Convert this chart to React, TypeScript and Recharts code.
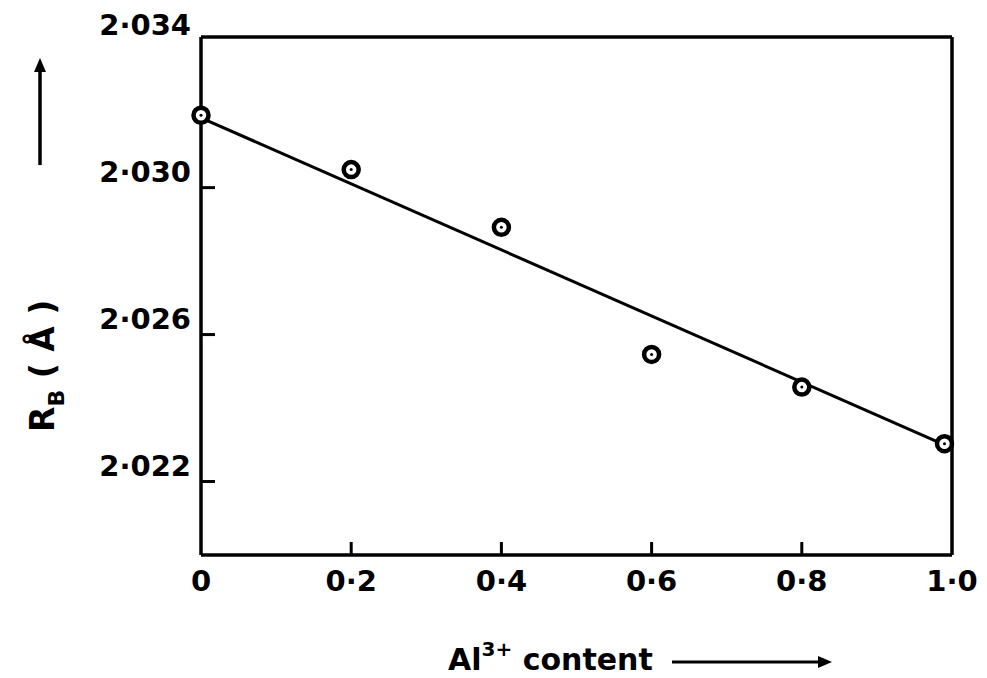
import React from 'react';
import { ComposedChart, Line, Scatter, XAxis, YAxis } from 'recharts';

// Al3+ content (x) and R_B in angstrom (y)
const alContent = [0, 0.2, 0.4, 0.6, 0.8, 0.99];
const rB = [2.03197, 2.03049, 2.02892, 2.02546, 2.02457, 2.02303];

// straight line drawn through the points
const fitX = [0, 0.99];
const fitY = [2.0319, 2.0230];

const xTicks = [0, 0.2, 0.4, 0.6, 0.8, 1.0];
const xTickLabels = ['0', '0·2', '0·4', '0·6', '0·8', '1·0'];
const yTicks = [2.022, 2.026, 2.03, 2.034];
const yTickLabels = ['2·022', '2·026', '2·030', '2·034'];

const points = alContent.map((x, i) => ({ x, y: rB[i] }));
const fitLine = fitX.map((x, i) => ({ x, y: fitY[i] }));

const FONT = '"DejaVu Sans", sans-serif';

const XTick = (props: any) => {
  const { x, y, payload } = props;
  const idx = xTicks.indexOf(payload.value);
  const inner = idx > 0 && idx < xTicks.length - 1;
  return (
    <g>
      {inner && <line x1={x} x2={x} y1={y} y2={y - 13} stroke="#000" strokeWidth={3} />}
      <text x={x} y={y + 36} textAnchor="middle" fontFamily={FONT} fontWeight="bold" fontSize={29} fill="#000">
        {xTickLabels[idx]}
      </text>
    </g>
  );
};

const YTick = (props: any) => {
  const { x, y, payload } = props;
  const idx = yTicks.indexOf(payload.value);
  const top = idx === yTicks.length - 1;
  return (
    <g>
      {!top && <line x1={x} x2={x + 14} y1={y} y2={y} stroke="#000" strokeWidth={3} />}
      <text x={x - 10} y={y - 6} textAnchor="end" fontFamily={FONT} fontWeight="bold" fontSize={29} fill="#000">
        {yTickLabels[idx]}
      </text>
    </g>
  );
};

const RingDot = (props: any) => {
  const { cx, cy } = props;
  if (cx == null || cy == null) return null;
  return (
    <g>
      <circle cx={cx} cy={cy} r={7.5} fill="#fff" stroke="#000" strokeWidth={4.5} />
      <circle cx={cx} cy={cy} r={1.5} fill="#000" />
    </g>
  );
};

export default function App() {
  return (
    <div style={{ position: 'absolute', left: 0, top: 0, width: 987, height: 678, background: '#fff' }}>
      <ComposedChart
        width={987}
        height={678}
        margin={{ top: 36, right: 34, bottom: 23, left: 101 }}
      >
        <XAxis
          dataKey="x"
          type="number"
          domain={[0, 1]}
          ticks={xTicks}
          height={100}
          tickSize={0}
          tickMargin={0}
          tickLine={false}
          tick={<XTick />}
          axisLine={{ stroke: '#000', strokeWidth: 3.5 }}
        />
        <XAxis xAxisId="top" orientation="top" type="number" domain={[0, 1]} height={1} tick={false} tickLine={false}
          axisLine={{ stroke: '#000', strokeWidth: 3.5 }} />
        <YAxis
          dataKey="y"
          type="number"
          domain={[2.02, 2.0341]}
          ticks={yTicks}
          width={100}
          tickSize={0}
          tickMargin={0}
          tickLine={false}
          tick={<YTick />}
          axisLine={{ stroke: '#000', strokeWidth: 3.5 }}
        />
        <YAxis yAxisId="right" orientation="right" type="number" domain={[2.02, 2.0341]} width={1} tick={false} tickLine={false}
          axisLine={{ stroke: '#000', strokeWidth: 3.5 }} />
        <Line
          data={fitLine}
          dataKey="y"
          type="linear"
          stroke="#000"
          strokeWidth={3}
          dot={false}
          activeDot={false}
          isAnimationActive={false}
        />
        <Scatter data={points} dataKey="y" shape={<RingDot />} isAnimationActive={false} />
        {/* y axis title with arrow */}
        <g>
          <text transform="translate(54,432) rotate(-90)" fontFamily={FONT} fontWeight="bold" fontSize={33} fill="#000">
            R<tspan fontSize={22} dy={10}>B</tspan><tspan dy={-10}> ( Å )</tspan>
          </text>
          <line x1={40} x2={40} y1={165} y2={70} stroke="#000" strokeWidth={3.5} />
          <path d="M 40 58 L 34 72 L 46 72 Z" fill="#000" />
        </g>
        {/* x axis title with arrow */}
        <g>
          <text x={448} y={670} fontFamily={FONT} fontWeight="bold" fontSize={30} fill="#000">
            Al<tspan fontSize={20} dy={-14}>3+</tspan><tspan dy={14}> content</tspan>
          </text>
          <line x1={672} x2={820} y1={662} y2={662} stroke="#000" strokeWidth={3} />
          <path d="M 832 662 L 818 656 L 818 668 Z" fill="#000" />
        </g>
      </ComposedChart>
    </div>
  );
}
